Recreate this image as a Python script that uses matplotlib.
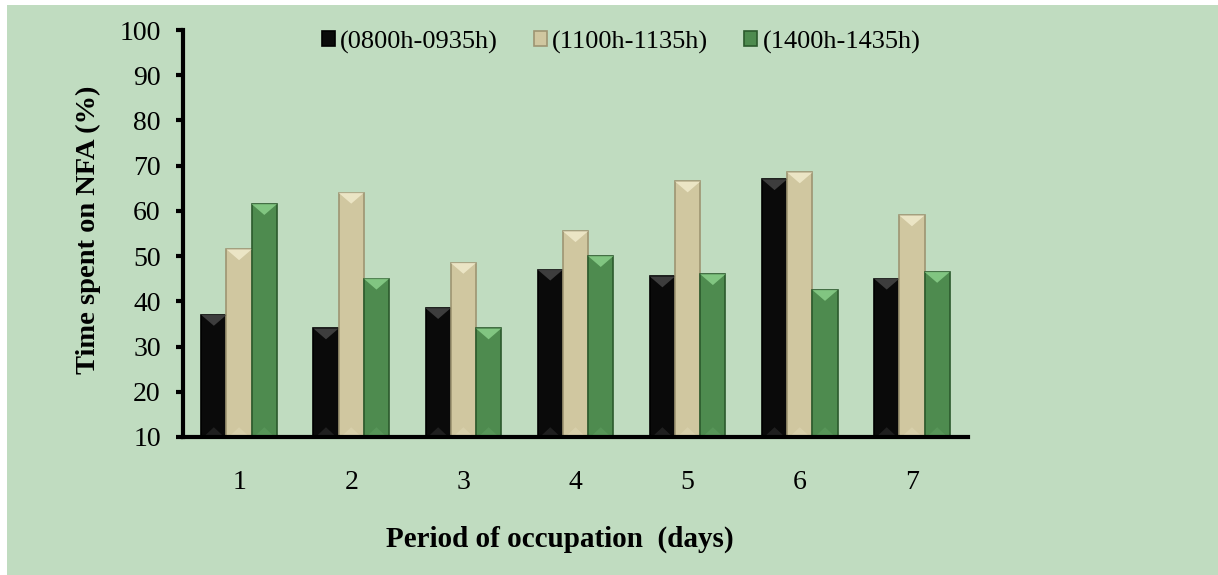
import matplotlib.pyplot as plt
import numpy as np
from matplotlib.patches import Rectangle, Polygon

days = ["1", "2", "3", "4", "5", "6", "7"]
morning = [37, 34, 38.5, 47, 45.5, 67, 45]
midday = [51.5, 64, 48.5, 55.5, 66.5, 68.5, 59]
afternoon = [61.5, 45, 34, 50, 46, 42.5, 46.5]
series_labels = ["(0800h-0935h)", "(1100h-1135h)", "(1400h-1435h)"]

bg = "#C0DCC0"
face = ["#0A0A0A", "#D0C7A0", "#4E8B4F"]
edge = ["#000000", "#9E9572", "#2C5A2D"]
cap_top = ["#4A4A4A", "#F3EDCF", "#8ED48E"]
cap_bot = ["#2E2E2E", "#DDD5B2", "#5E9C5F"]

plt.rcParams['font.family'] = ['Liberation Serif', 'DejaVu Serif']

fig = plt.figure(figsize=(12.18, 5.75), dpi=100)
fig.patch.set_facecolor("white")
fig.add_artist(Rectangle((7 / 1218, 0), 1, 1 - 5 / 575, transform=fig.transFigure,
                         facecolor=bg, edgecolor="none", zorder=-10))

ax = fig.add_axes([183 / 1218, 1 - 437 / 575, (968 - 183) / 1218, (437 - 30) / 575])
ax.set_facecolor("none")
ax.set_xlim(0.5, 7.5)
ax.set_ylim(10, 100)

x = np.arange(1, len(days) + 1)
w = 0.225
cap_h = 2.4  # bevel depth in data units
for i, vals in enumerate([morning, midday, afternoon]):
    bars = ax.bar(x + (i - 1) * w, np.array(vals) - 10, bottom=10, width=w,
                  color=face[i], edgecolor=edge[i], linewidth=1.2,
                  label=series_labels[i], zorder=3)
    # bevelled caps on the top and bottom of each bar
    for b in bars:
        x0, x1 = b.get_x(), b.get_x() + b.get_width()
        xc = (x0 + x1) / 2
        top, bot = b.get_y() + b.get_height(), b.get_y()
        ax.add_patch(Polygon([(x0, top), (x1, top), (xc, top - cap_h)], closed=True,
                             facecolor=cap_top[i], edgecolor="none", alpha=0.8, zorder=4))
        ax.add_patch(Polygon([(x0 + 0.02, bot), (x1 - 0.02, bot), (xc, bot + cap_h * 0.9)],
                             closed=True, facecolor=cap_bot[i], edgecolor="none",
                             alpha=0.6, zorder=4))

ax.set_yticks(range(10, 101, 10))
ax.set_xticks(x)
ax.set_xticklabels(days)

for s in ["top", "right"]:
    ax.spines[s].set_visible(False)
ax.spines["left"].set_linewidth(3)
ax.spines["bottom"].set_linewidth(3)
ax.spines["left"].set_zorder(5)
ax.spines["bottom"].set_zorder(5)
ax.tick_params(axis="y", direction="out", length=5, width=3, labelsize=20, pad=11)
ax.tick_params(axis="x", length=0, labelsize=20, pad=24)

ax.set_ylabel("Time spent on NFA (%)", fontsize=20.5, fontweight="bold", labelpad=13, y=0.51)
ax.set_xlabel("Period of occupation  (days)", fontsize=21, fontweight="bold", labelpad=22, x=0.48)

leg = fig.legend(loc="center", bbox_to_anchor=(621 / 1218, 1 - 42 / 575), ncol=3, frameon=False,
                 fontsize=19, handlelength=0.5, handleheight=0.5, handletextpad=0.2,
                 columnspacing=1.35, borderaxespad=0)

fig.savefig("out.png", dpi=100, facecolor=fig.get_facecolor())
